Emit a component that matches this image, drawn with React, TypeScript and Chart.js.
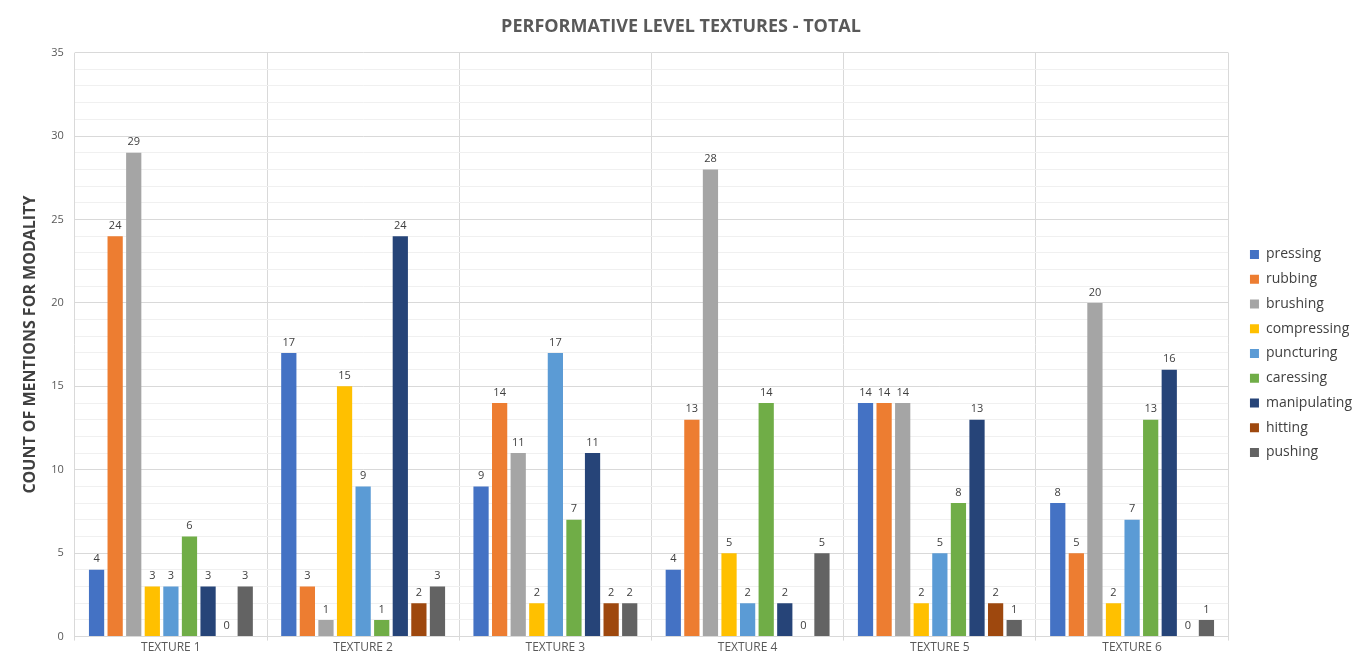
import React, { useEffect, useRef } from "react";
import { Chart, registerables } from "chart.js";

Chart.register(...registerables);

const categories = ["TEXTURE 1", "TEXTURE 2", "TEXTURE 3", "TEXTURE 4", "TEXTURE 5", "TEXTURE 6"];
const pressing = [4, 17, 9, 4, 14, 8];
const rubbing = [24, 3, 14, 13, 14, 5];
const brushing = [29, 1, 11, 28, 14, 20];
const compressing = [3, 15, 2, 5, 2, 2];
const puncturing = [3, 9, 17, 2, 5, 7];
const caressing = [6, 1, 7, 14, 8, 13];
const manipulating = [3, 24, 11, 2, 13, 16];
const hitting = [0, 2, 2, 0, 2, 0];
const pushing = [3, 3, 2, 5, 1, 1];

const seriesNames = ["pressing", "rubbing", "brushing", "compressing", "puncturing", "caressing", "manipulating", "hitting", "pushing"];
const seriesValues = [pressing, rubbing, brushing, compressing, puncturing, caressing, manipulating, hitting, pushing];
const seriesColors = ["#4472C4", "#ED7D31", "#A5A5A5", "#FFC000", "#5B9BD5", "#70AD47", "#264478", "#9E480E", "#636363"];

const FONT = "'Open Sans', 'Noto Sans', sans-serif";

const valueLabels = {
  id: "valueLabels",
  afterDatasetsDraw(chart: any) {
    const ctx = chart.ctx;
    ctx.save();
    ctx.font = `11px ${FONT}`;
    ctx.fillStyle = "#404040";
    ctx.textAlign = "center";
    ctx.textBaseline = "bottom";
    chart.data.datasets.forEach((ds: any, i: number) => {
      const meta = chart.getDatasetMeta(i);
      meta.data.forEach((bar: any, j: number) => {
        ctx.fillText(String(ds.data[j]), bar.x, bar.y - 5);
      });
    });
    ctx.restore();
  },
};

export default function App() {
  const ref = useRef<HTMLCanvasElement | null>(null);
  useEffect(() => {
    document.body.style.margin = "0";
    const chart = new Chart(ref.current as HTMLCanvasElement, {
      type: "bar",
      data: {
        labels: categories,
        datasets: seriesNames.map((name, i) => ({
          label: name,
          data: seriesValues[i],
          backgroundColor: seriesColors[i],
          borderWidth: 0,
          categoryPercentage: 0.87,
          barPercentage: 0.82,
        })),
      },
      options: {
        animation: false,
        responsive: false,
        layout: { padding: { left: 0, right: -10, top: 0, bottom: 0 } },
        plugins: {
          title: {
            display: true,
            text: "PERFORMATIVE LEVEL TEXTURES - TOTAL",
            color: "#595959",
            font: { family: FONT, size: 18, weight: "bold" },
            padding: { top: 16, bottom: 15 },
          },
          legend: {
            position: "right",
            title: {
              display: true,
              text: " ",
              font: { family: FONT, size: 10 },
              padding: { top: 0, bottom: 40 },
            },
            labels: {
              boxWidth: 9,
              boxHeight: 9,
              padding: 10.75,
              color: "#404040",
              font: { family: FONT, size: 14 },
            },
          },
          tooltip: { enabled: false },
        },
        scales: {
          x: {
            grid: { color: "#d9d9d9", offset: true, tickLength: 4 },
            border: { color: "#d9d9d9" },
            ticks: { color: "#595959", font: { family: FONT, size: 12 }, padding: 0 },
          },
          y: {
            min: 0,
            max: 35,
            ticks: {
              stepSize: 1,
              autoSkip: false,
              color: "#595959",
              font: { family: FONT, size: 11 },
              padding: 11,
              callback: (v: any) => (Number(v) % 5 === 0 ? String(v) : ""),
            },
            grid: {
              color: (c: any) => (c.tick && c.tick.value % 5 === 0 ? "#d9d9d9" : "#f0f0f0"),
              drawTicks: false,
            },
            border: { display: false },
            title: {
              display: true,
              text: "COUNT OF MENTIONS FOR MODALITY",
              color: "#404040",
              font: { family: FONT, size: 16, weight: "bold" },
              padding: { top: 21, bottom: 0 },
            },
          },
          gap: {
            type: "linear",
            position: "right",
            display: true,
            grid: { display: false },
            ticks: { display: false },
            border: { display: false },
            afterFit: (s: any) => {
              s.width = 11;
            },
          },
        },
      },
      plugins: [valueLabels],
    });
    return () => chart.destroy();
  }, []);
  return (
    <div style={{ position: "absolute", left: 0, top: 0, width: 1352, height: 655 }}>
      <canvas ref={ref} width={1352} height={655} />
    </div>
  );
}
